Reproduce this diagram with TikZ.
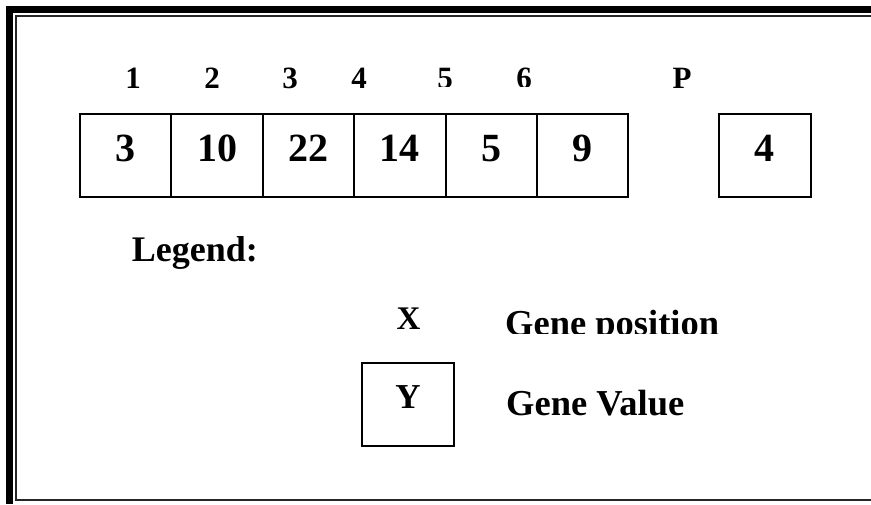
\documentclass[tikz,border=0pt]{standalone}
\usepackage{fontspec}
\setmainfont{Liberation Serif}
\begin{document}
\begin{tikzpicture}[x=1pt,y=-1pt,
  cell/.style={draw=black,line width=2pt,rectangle,inner sep=0pt,minimum width=91.4pt,minimum height=83pt},
  val/.style={anchor=base,inner sep=0pt,font=\bfseries\fontsize{40}{40}\selectfont},
  posl/.style={anchor=base,inner sep=0pt,font=\bfseries\fontsize{31}{31}\selectfont},
  big/.style={anchor=base west,inner sep=0pt,font=\bfseries\fontsize{36.5}{36.5}\selectfont},
  frameline/.style={draw=black!85,line width=2pt}]
\useasboundingbox (0,0) rectangle (871,504);
% frame
\fill[black] (6,6) rectangle (13,504);
\fill[black] (6,6) rectangle (871,13);
\coordinate (fa) at (16.3,15.5);
\coordinate (fb) at (871,15.5);
\coordinate (fc) at (16.3,499.8);
\coordinate (fd) at (871,499.8);
\draw[frameline] (fb) -- (fa) -- (fc) -- (fd);
% cells
\node[cell] (c1) at (125.7,155.5) {};
\node[cell] (c2) at (217.1,155.5) {};
\node[cell] (c3) at (308.5,155.5) {};
\node[cell] (c4) at (399.9,155.5) {};
\node[cell] (c5) at (491.3,155.5) {};
\node[cell] (c6) at (582.7,155.5) {};
\node[cell,minimum width=91.7pt] (cp) at (764.8,155.5) {};
\node[val] (v1) at (125.7,161) {3};
\node[val] (v2) at (217.1,161) {10};
\node[val] (v3) at (308.5,161) {22};
\node[val] (v4) at (399.9,161) {14};
\node[val] (v5) at (491.3,161) {5};
\node[val] (v6) at (582.7,161) {9};
\node[val] (vp) at (764.8,161) {4};
% positions
\node[posl] (p1) at (133,88.3) {1};
\node[posl] (p2) at (212,88.3) {2};
\node[posl] (p3) at (290,88.3) {3};
\node[posl] (p4) at (359,88.3) {4};
\begin{scope}
\clip (0,0) rectangle (871,86.5);
\node[posl] (p5) at (445,88.3) {5};
\node[posl] (p6) at (524,88.3) {6};
\end{scope}
\node[posl] (pp) at (682,88.3) {P};
% legend
\node[big,font=\bfseries\fontsize{36}{36}\selectfont] (leg) at (131.7,261.7) {Legend:};
\node[anchor=base,inner sep=0pt,font=\bfseries\fontsize{33}{33}\selectfont] (x) at (408.5,329) {X};
\begin{scope}
\clip (0,0) rectangle (871,333);
\node[big] (gp) at (505,335) {Gene position};
\end{scope}
\node[cell,minimum width=92.3pt,minimum height=82.4pt] (yb) at (407.9,404.5) {};
\node[anchor=base,inner sep=0pt,font=\bfseries\fontsize{35}{35}\selectfont] (y) at (408,408.3) {Y};
\begin{scope}
\clip (0,0) rectangle (871,415.5);
\node[big] (gv) at (506,415) {Gene Value};
\end{scope}
\end{tikzpicture}
\end{document}
